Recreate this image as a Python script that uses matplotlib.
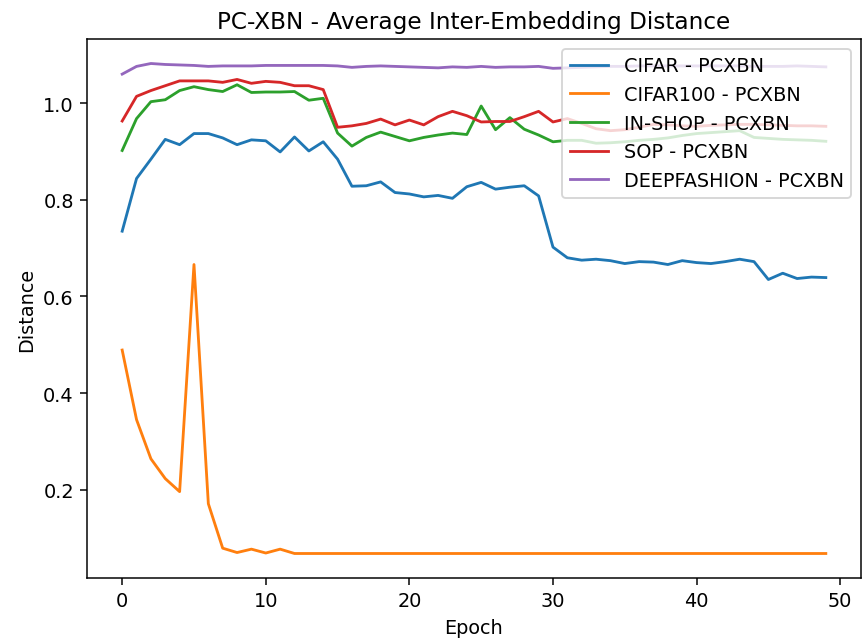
import numpy as np
import matplotlib
matplotlib.use("Agg")
import matplotlib.pyplot as plt

# distancia media entre embeddings por época
epochs = list(range(50))

cifar = [0.735, 0.844, 0.884, 0.925, 0.914, 0.937, 0.937, 0.928, 0.914, 0.924,
         0.922, 0.899, 0.930, 0.901, 0.920, 0.884, 0.828, 0.829, 0.837, 0.815,
         0.812, 0.806, 0.809, 0.803, 0.827, 0.836, 0.822, 0.826, 0.829, 0.808,
         0.702, 0.680, 0.675, 0.677, 0.674, 0.668, 0.672, 0.671, 0.666, 0.674,
         0.670, 0.668, 0.672, 0.677, 0.672, 0.635, 0.648, 0.637, 0.640, 0.639]

cifar100 = [0.489, 0.345, 0.264, 0.223, 0.196, 0.666, 0.171, 0.079, 0.070, 0.077,
            0.069, 0.077, 0.068, 0.068, 0.068, 0.068, 0.068, 0.068, 0.068, 0.068,
            0.068, 0.068, 0.068, 0.068, 0.068, 0.068, 0.068, 0.068, 0.068, 0.068,
            0.068, 0.068, 0.068, 0.068, 0.068, 0.068, 0.068, 0.068, 0.068, 0.068,
            0.068, 0.068, 0.068, 0.068, 0.068, 0.068, 0.068, 0.068, 0.068, 0.068]

inshop = [0.902, 0.968, 1.003, 1.007, 1.026, 1.034, 1.028, 1.024, 1.038, 1.022,
          1.023, 1.023, 1.024, 1.006, 1.010, 0.938, 0.911, 0.929, 0.940, 0.931,
          0.922, 0.929, 0.934, 0.938, 0.935, 0.994, 0.945, 0.970, 0.946, 0.934,
          0.920, 0.923, 0.923, 0.917, 0.918, 0.920, 0.923, 0.925, 0.928, 0.933,
          0.937, 0.939, 0.941, 0.943, 0.929, 0.927, 0.925, 0.924, 0.923, 0.921]

sop = [0.963, 1.014, 1.026, 1.036, 1.046, 1.046, 1.046, 1.043, 1.049, 1.041,
       1.045, 1.043, 1.036, 1.036, 1.028, 0.950, 0.953, 0.958, 0.967, 0.955,
       0.965, 0.955, 0.972, 0.983, 0.974, 0.961, 0.962, 0.962, 0.972, 0.983,
       0.961, 0.968, 0.958, 0.947, 0.943, 0.945, 0.950, 0.956, 0.955, 0.953,
       0.952, 0.954, 0.955, 0.956, 0.956, 0.955, 0.954, 0.953, 0.953, 0.952]

deepfashion = [1.060, 1.076, 1.082, 1.080, 1.079, 1.078, 1.076, 1.077, 1.077, 1.077,
               1.078, 1.078, 1.078, 1.078, 1.078, 1.077, 1.074, 1.076, 1.077, 1.076,
               1.075, 1.074, 1.073, 1.075, 1.074, 1.076, 1.074, 1.075, 1.075, 1.076,
               1.072, 1.073, 1.074, 1.075, 1.076, 1.076, 1.077, 1.077, 1.077, 1.077,
               1.077, 1.077, 1.077, 1.077, 1.076, 1.076, 1.076, 1.077, 1.076, 1.075]

series = [("CIFAR - PCXBN", cifar), ("CIFAR100 - PCXBN", cifar100),
          ("IN-SHOP - PCXBN", inshop), ("SOP - PCXBN", sop),
          ("DEEPFASHION - PCXBN", deepfashion)]

plt.rcParams['font.size'] = 10.3

fig = plt.figure(figsize=(8.66 / 1.35, 6.41 / 1.35), dpi=135)
ax = fig.add_axes([87 / 866, 1 - 579 / 641, (861 - 87) / 866, (579 - 40) / 641])

for name, vals in series:
    ax.plot(epochs, vals, label=name)

ax.set_title('PC-XBN - Average Inter-Embedding Distance')
ax.set_xlabel('Epoch')
ax.set_ylabel('Distance')
ax.legend(loc='upper right')

fig.savefig('out.png', dpi=135)
